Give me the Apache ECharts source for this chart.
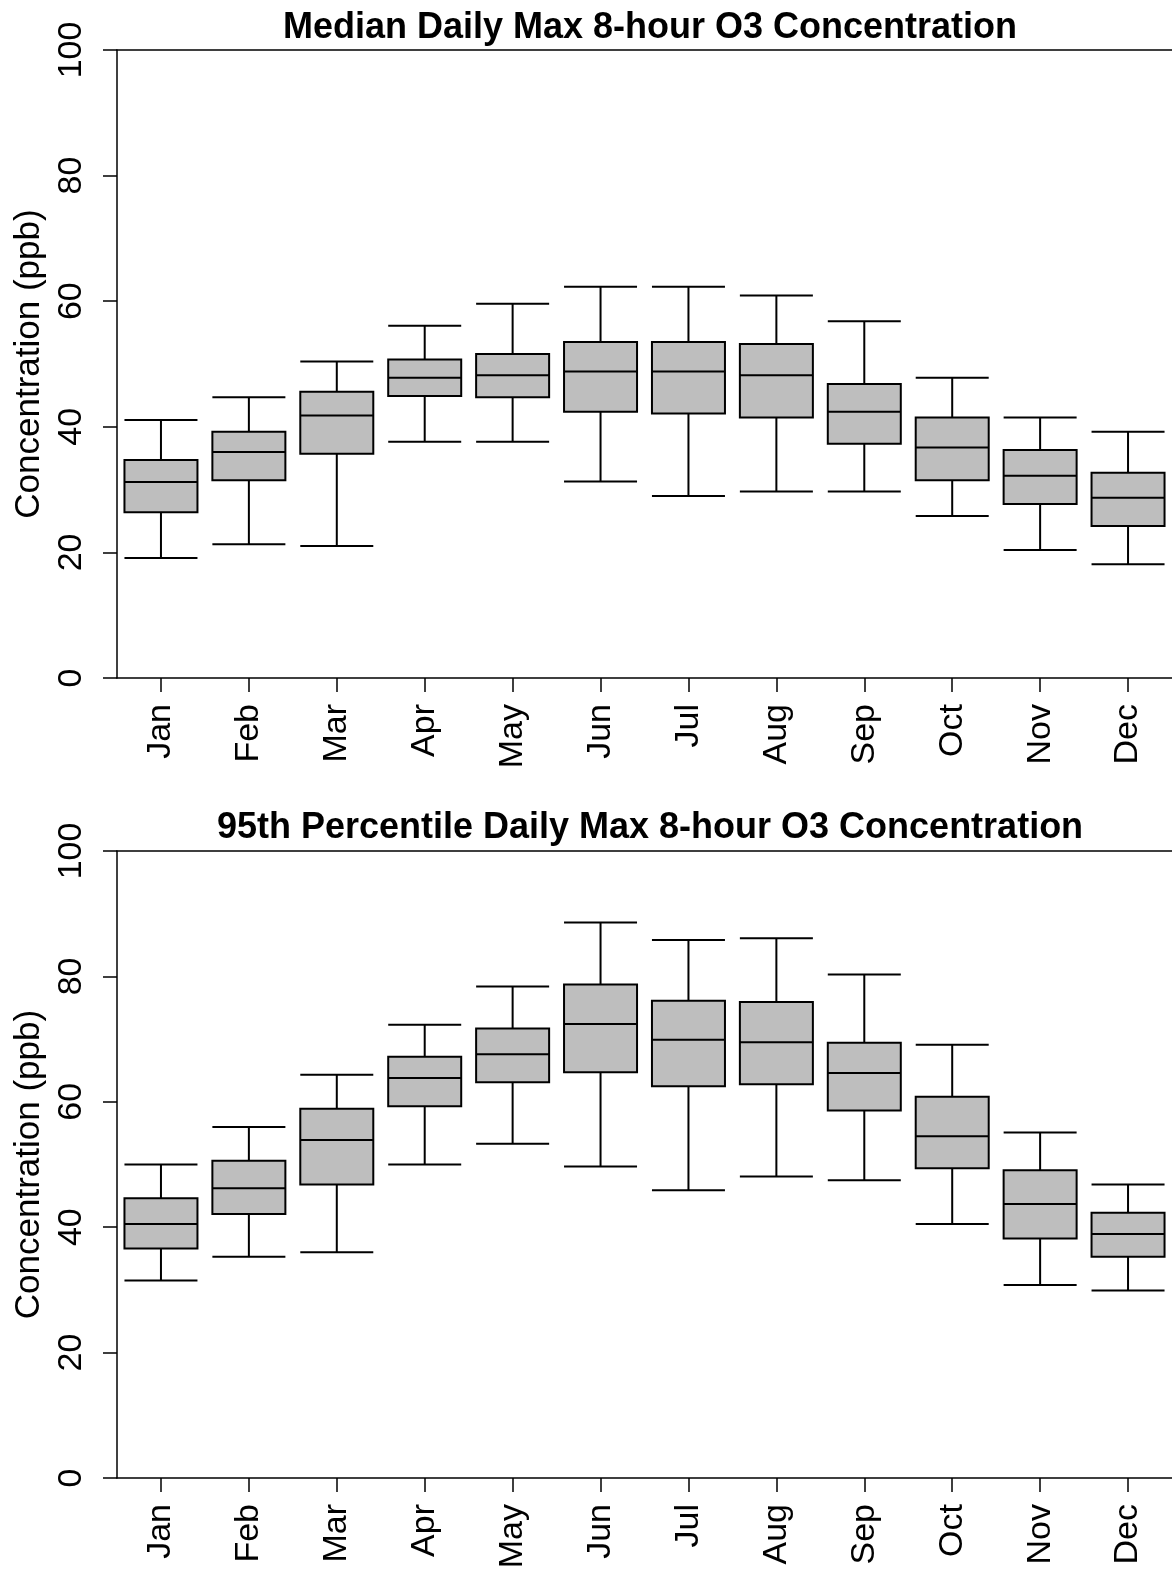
<!DOCTYPE html>
<html>
<head>
<meta charset="utf-8">
<script src="https://cdn.jsdelivr.net/npm/echarts@6/dist/echarts.min.js"></script>
<style>
  html, body { margin: 0; padding: 0; background: #fff; overflow: hidden; }
  #chart { width: 1172px; height: 1575px; }
</style>
</head>
<body>
<div id="chart"></div>
<script>
const months = ['Jan','Feb','Mar','Apr','May','Jun','Jul','Aug','Sep','Oct','Nov','Dec'];
const yTicks = [0, 20, 40, 60, 80, 100];

// Median daily max 8-hour O3: [lower whisker, Q1, median, Q3, upper whisker]
const medianLow  = [19.1, 21.3, 21.0, 37.6, 37.6, 31.3, 29.0, 29.7, 29.7, 25.8, 20.4, 18.1];
const medianQ1   = [26.4, 31.5, 35.7, 44.9, 44.7, 42.4, 42.1, 41.5, 37.3, 31.5, 27.7, 24.2];
const medianMed  = [31.2, 36.0, 41.8, 47.8, 48.2, 48.8, 48.8, 48.2, 42.4, 36.7, 32.2, 28.7];
const medianQ3   = [34.7, 39.2, 45.6, 50.7, 51.6, 53.5, 53.5, 53.2, 46.8, 41.5, 36.3, 32.7];
const medianHigh = [41.1, 44.7, 50.4, 56.1, 59.6, 62.3, 62.3, 60.9, 56.8, 47.8, 41.5, 39.2];

// 95th percentile daily max 8-hour O3
const p95Low  = [31.5, 35.3, 36.0, 50.0, 53.3, 49.7, 45.9, 48.1, 47.5, 40.5, 30.8, 29.9];
const p95Q1   = [36.6, 42.1, 46.8, 59.3, 63.1, 64.7, 62.5, 62.8, 58.6, 49.4, 38.2, 35.3];
const p95Med  = [40.5, 46.2, 53.9, 63.8, 67.6, 72.4, 69.9, 69.5, 64.6, 54.5, 43.7, 38.9];
const p95Q3   = [44.6, 50.6, 58.9, 67.2, 71.7, 78.7, 76.1, 75.9, 69.4, 60.8, 49.1, 42.3];
const p95High = [50.0, 56.0, 64.3, 72.3, 78.4, 88.6, 85.8, 86.1, 80.3, 69.1, 55.1, 46.8];

const titles = ['Median Daily Max 8-hour O3 Concentration', '95th Percentile Daily Max 8-hour O3 Concentration'];
const yName = 'Concentration (ppb)';

function build(lo, q1, md, q3, hi) {
  return lo.map((v, i) => [v, q1[i], md[i], q3[i], hi[i]]);
}

const FONT = '"Liberation Sans", Arial, sans-serif';
const BLACK = '#000';

const grids = [
  { left: 117, top: 50, width: 1057, height: 628 },
  { left: 117, top: 851, width: 1057, height: 627 }
];

function xAxisFor(idx) {
  return {
    type: 'category', gridIndex: idx, data: months, boundaryGap: true, position: 'bottom',
    axisLine: { show: true, lineStyle: { color: BLACK, width: 1.5 } },
    axisTick: { show: true, alignWithLabel: true, length: 14, lineStyle: { color: BLACK, width: 1.5 } },
    axisLabel: { rotate: 90, interval: 0, margin: 26, fontSize: 34, color: BLACK, fontFamily: FONT },
    splitLine: { show: false }
  };
}
function topFrameFor(idx) {
  return {
    type: 'category', gridIndex: idx, data: months, boundaryGap: true, position: 'top',
    axisLine: { show: true, lineStyle: { color: BLACK, width: 1.5 } },
    axisTick: { show: false }, axisLabel: { show: false }, splitLine: { show: false }
  };
}
function yAxisFor(idx) {
  return {
    type: 'value', gridIndex: idx, min: yTicks[0], max: yTicks[yTicks.length - 1], interval: 20,
    name: yName, nameLocation: 'middle', nameGap: 68, nameRotate: 90,
    nameTextStyle: { fontSize: 35, color: BLACK, fontFamily: FONT },
    axisLine: { show: true, lineStyle: { color: BLACK, width: 1.5 } },
    axisTick: { show: true, length: 14, lineStyle: { color: BLACK, width: 1.5 } },
    axisLabel: { rotate: 90, margin: 28, fontSize: 34, color: BLACK, fontFamily: FONT },
    splitLine: { show: false }
  };
}

const chart = echarts.init(document.getElementById('chart'), null, { renderer: 'canvas' });
chart.setOption({
  backgroundColor: '#fff',
  animation: false,
  title: [
    { text: titles[0], left: 645, top: 5, textAlign: 'center',
      textStyle: { fontSize: 36, fontWeight: 'bold', color: BLACK, fontFamily: FONT } },
    { text: titles[1], left: 645, top: 805, textAlign: 'center',
      textStyle: { fontSize: 36, fontWeight: 'bold', color: BLACK, fontFamily: FONT } }
  ],
  grid: grids.map(g => Object.assign({ show: false }, g)),
  xAxis: [xAxisFor(0), xAxisFor(1), topFrameFor(0), topFrameFor(1)],
  yAxis: [yAxisFor(0), yAxisFor(1)],
  series: [
    { type: 'boxplot', xAxisIndex: 0, yAxisIndex: 0, boxWidth: [73, 73],
      data: build(medianLow, medianQ1, medianMed, medianQ3, medianHigh),
      itemStyle: { color: '#bebebe', borderColor: BLACK, borderWidth: 2 } },
    { type: 'boxplot', xAxisIndex: 1, yAxisIndex: 1, boxWidth: [73, 73],
      data: build(p95Low, p95Q1, p95Med, p95Q3, p95High),
      itemStyle: { color: '#bebebe', borderColor: BLACK, borderWidth: 2 } }
  ]
});
</script>
</body>
</html>
